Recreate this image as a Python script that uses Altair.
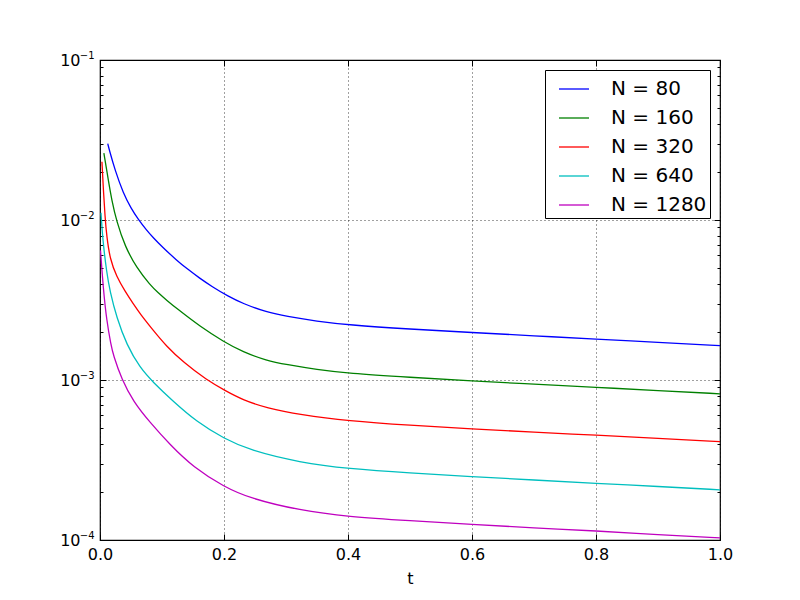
import altair as alt
import pandas as pd

# ---------------- data ----------------
series_names = ["N = 80", "N = 160", "N = 320", "N = 640", "N = 1280"]
series_colors = ["#0000ff", "#008000", "#ff0000", "#00bfbf", "#bf00bf"]

t_80 = [0.0125, 0.015, 0.0242, 0.0376, 0.05, 0.0618, 0.075, 0.086, 0.1, 0.1237, 0.14,
        0.1613, 0.18, 0.207, 0.23, 0.269, 0.3, 0.35, 0.4, 0.5, 0.6, 0.7, 0.8, 0.9, 1.0]
e_80 = [0.0300, 0.02742, 0.02051, 0.01469, 0.01186, 0.01007, 0.00865, 0.00774, 0.00681, 0.00560,
        0.00497, 0.00431, 0.00385, 0.00333, 0.00301, 0.00265, 0.00250, 0.00233, 0.00221, 0.00208,
        0.00198, 0.00189, 0.00180, 0.00172, 0.00164]

t_160 = [0.00625, 0.0134, 0.0189, 0.0269, 0.0403, 0.0592, 0.0806, 0.094, 0.1076, 0.1237, 0.1613,
         0.2, 0.23, 0.269, 0.3, 0.35, 0.4, 0.5, 0.6, 0.7, 0.8, 0.9, 1.0]
e_160 = [0.02618, 0.01778, 0.01334, 0.00977, 0.00684, 0.00501, 0.00394, 0.00350, 0.00315, 0.00280,
         0.00216, 0.00173, 0.00150, 0.00132, 0.00125, 0.00116, 0.00110, 0.00104, 0.000986,
         0.000942, 0.000900, 0.000859, 0.000820]

t_320 = [0.003125, 0.0053, 0.0081, 0.0108, 0.0161, 0.0269, 0.0403, 0.0537, 0.0645, 0.086, 0.1076,
         0.1344, 0.172, 0.2016, 0.231, 0.269, 0.3226, 0.4, 0.5, 0.6, 0.7, 0.8, 0.9, 1.0]
e_320 = [0.02312, 0.01585, 0.01047, 0.00794, 0.00569, 0.00442, 0.00359, 0.00299, 0.00260, 0.00204,
         0.00162, 0.00129, 0.00100, 0.000859, 0.000748, 0.000668, 0.000607, 0.000555, 0.000521,
         0.000495, 0.000472, 0.000452, 0.000432, 0.000412]

t_640 = [0.0016, 0.0043, 0.0108, 0.0161, 0.0269, 0.043, 0.0645, 0.086, 0.1156, 0.156, 0.2, 0.242,
         0.3226, 0.4, 0.5, 0.6, 0.7, 0.8, 0.9, 1.0]
e_640 = [0.01109, 0.00759, 0.00468, 0.00359, 0.00245, 0.00166, 0.00119, 0.000966, 0.000750,
         0.000547, 0.000431, 0.000363, 0.000305, 0.000279, 0.000262, 0.000249, 0.000237, 0.000226,
         0.000216, 0.000206]

t_1280 = [0.0008, 0.0053, 0.0108, 0.0177, 0.0215, 0.035, 0.0537, 0.0806, 0.1129, 0.1505, 0.2, 0.242,
          0.3226, 0.4, 0.5, 0.6, 0.7, 0.8, 0.9, 1.0]
e_1280 = [0.00646, 0.00372, 0.00234, 0.00166, 0.00143, 0.00101, 0.000733, 0.000543, 0.000394,
          0.000285, 0.000215, 0.000182, 0.000153, 0.000140, 0.000132, 0.000125, 0.000119, 0.000114,
          0.000108, 0.000103]

x_ticks = [0.0, 0.2, 0.4, 0.6, 0.8, 1.0]
y_major = [0.0001, 0.001, 0.01, 0.1]
y_label_base = "10"
y_label_exp = ["\u22124", "\u22123", "\u22122", "\u22121"]
y_minor = [0.0002, 0.0003, 0.0004, 0.0005, 0.0006, 0.0007, 0.0008, 0.0009,
           0.002, 0.003, 0.004, 0.005, 0.006, 0.007, 0.008, 0.009,
           0.02, 0.03, 0.04, 0.05, 0.06, 0.07, 0.08, 0.09]

# ---------------- table ----------------
rows = []
for name, ts, es in zip(series_names,
                        [t_80, t_160, t_320, t_640, t_1280],
                        [e_80, e_160, e_320, e_640, e_1280]):
    for t, e in zip(ts, es):
        rows.append({"series": name, "t": t, "err": e})
df = pd.DataFrame(rows)

FONT = "DejaVu Sans"
W, H = 620, 480

xscale = alt.Scale(domain=[0, 1], nice=False, zero=False)
yscale = alt.Scale(type="log", domain=[1e-4, 1e-1], nice=False)

exp_expr = " : ".join(
    f"abs(datum.value - {v}) < {v * 0.01} ? '{lab}'" for v, lab in zip(y_major, y_label_exp)
) + " : ''"

major_test = "abs(log(datum.value)/LN10 - round(log(datum.value)/LN10)) < 0.001"
tick_size_cond = {"condition": {"test": major_test, "value": 6}, "value": 3}

base = alt.Chart(df)

# layer 1: visible lines, labelled axes + grid
lines = base.mark_line(strokeWidth=1.3, interpolate="basis", clip=True).encode(
    x=alt.X("t:Q", scale=xscale,
            axis=alt.Axis(orient="bottom", values=x_ticks, format=".1f", ticks=False, domain=False,
                          grid=True, gridDash=[1, 3], gridColor="#000000", gridOpacity=0.75,
                          labelFont=FONT, labelFontSize=16, labelColor="black", labelPadding=6,
                          labelOverlap=False, labelBound=False, labelFlush=False,
                          title="t", titleFont=FONT, titleFontSize=16, titleFontWeight="normal",
                          titleColor="black", titlePadding=8)),
    y=alt.Y("err:Q", scale=yscale,
            axis=alt.Axis(orient="left", values=y_major, labelExpr=f"'{y_label_base}'", ticks=False,
                          domain=False, grid=True, gridDash=[1, 3], gridColor="#000000",
                          gridOpacity=0.75, labelFont=FONT, labelFontSize=16, labelColor="black",
                          labelPadding=20, labelOverlap=False, labelBound=False, labelFlush=False,
                          title=None)),
    color=alt.Color("series:N", sort=series_names,
                    scale=alt.Scale(domain=series_names, range=series_colors),
                    legend=alt.Legend(orient="top-right", offset=10, title=None,
                                      symbolType="stroke", symbolSize=900, symbolStrokeWidth=1.3,
                                      labelFont=FONT, labelFontSize=20, labelColor="black",
                                      strokeColor="black", fillColor="white", padding=3,
                                      symbolOffset=10, labelOffset=21, rowPadding=3,
                                      cornerRadius=0)),
)

# layer 2: inward ticks on bottom and left edges
ticks_a = base.mark_point(opacity=0).encode(
    x=alt.X("t:Q", scale=xscale,
            axis=alt.Axis(orient="top", offset=-H, values=x_ticks, labels=False, domain=False,
                          grid=False, ticks=True, tickSize=6, tickColor="black", tickWidth=1,
                          title=None)),
    y=alt.Y("err:Q", scale=yscale,
            axis=alt.Axis(orient="right", offset=-W, values=y_major + y_minor, labels=False,
                          domain=False, grid=False, ticks=True, tickSize=tick_size_cond,
                          tickColor="black", tickWidth=1, title=None)),
)

# layer 3: inward ticks on top and right edges
ticks_b = base.mark_point(opacity=0).encode(
    x=alt.X("t:Q", scale=xscale,
            axis=alt.Axis(orient="bottom", offset=-H, values=x_ticks, labels=False, domain=False,
                          grid=False, ticks=True, tickSize=6, tickColor="black", tickWidth=1,
                          title=None)),
    y=alt.Y("err:Q", scale=yscale,
            axis=alt.Axis(orient="left", offset=-W, values=y_major + y_minor, labels=False,
                          domain=False, grid=False, ticks=True, tickSize=tick_size_cond,
                          tickColor="black", tickWidth=1, title=None)),
)

# layer 4: superscript exponents of the y labels
exps = base.mark_point(opacity=0).encode(
    x=alt.X("t:Q", scale=xscale, axis=None),
    y=alt.Y("err:Q", scale=yscale,
            axis=alt.Axis(orient="left", values=y_major, labelExpr=exp_expr, ticks=False,
                          domain=False, grid=False, labelFont=FONT, labelFontSize=10,
                          labelColor="black", labelPadding=6, labelOffset=-5,
                          labelOverlap=False, labelBound=False, labelFlush=False, title=None)),
)

chart = alt.layer(lines, ticks_a, ticks_b, exps).resolve_axis(
    x="independent", y="independent"
).properties(
    width=W, height=H,
    autosize=alt.AutoSizeParams(type="none"),
    padding={"left": 100, "top": 60, "right": 80, "bottom": 60},
    background="white",
).configure_view(stroke="black", strokeWidth=1.2)

chart.save("out.html", embed_options={"renderer": "svg", "actions": False})
